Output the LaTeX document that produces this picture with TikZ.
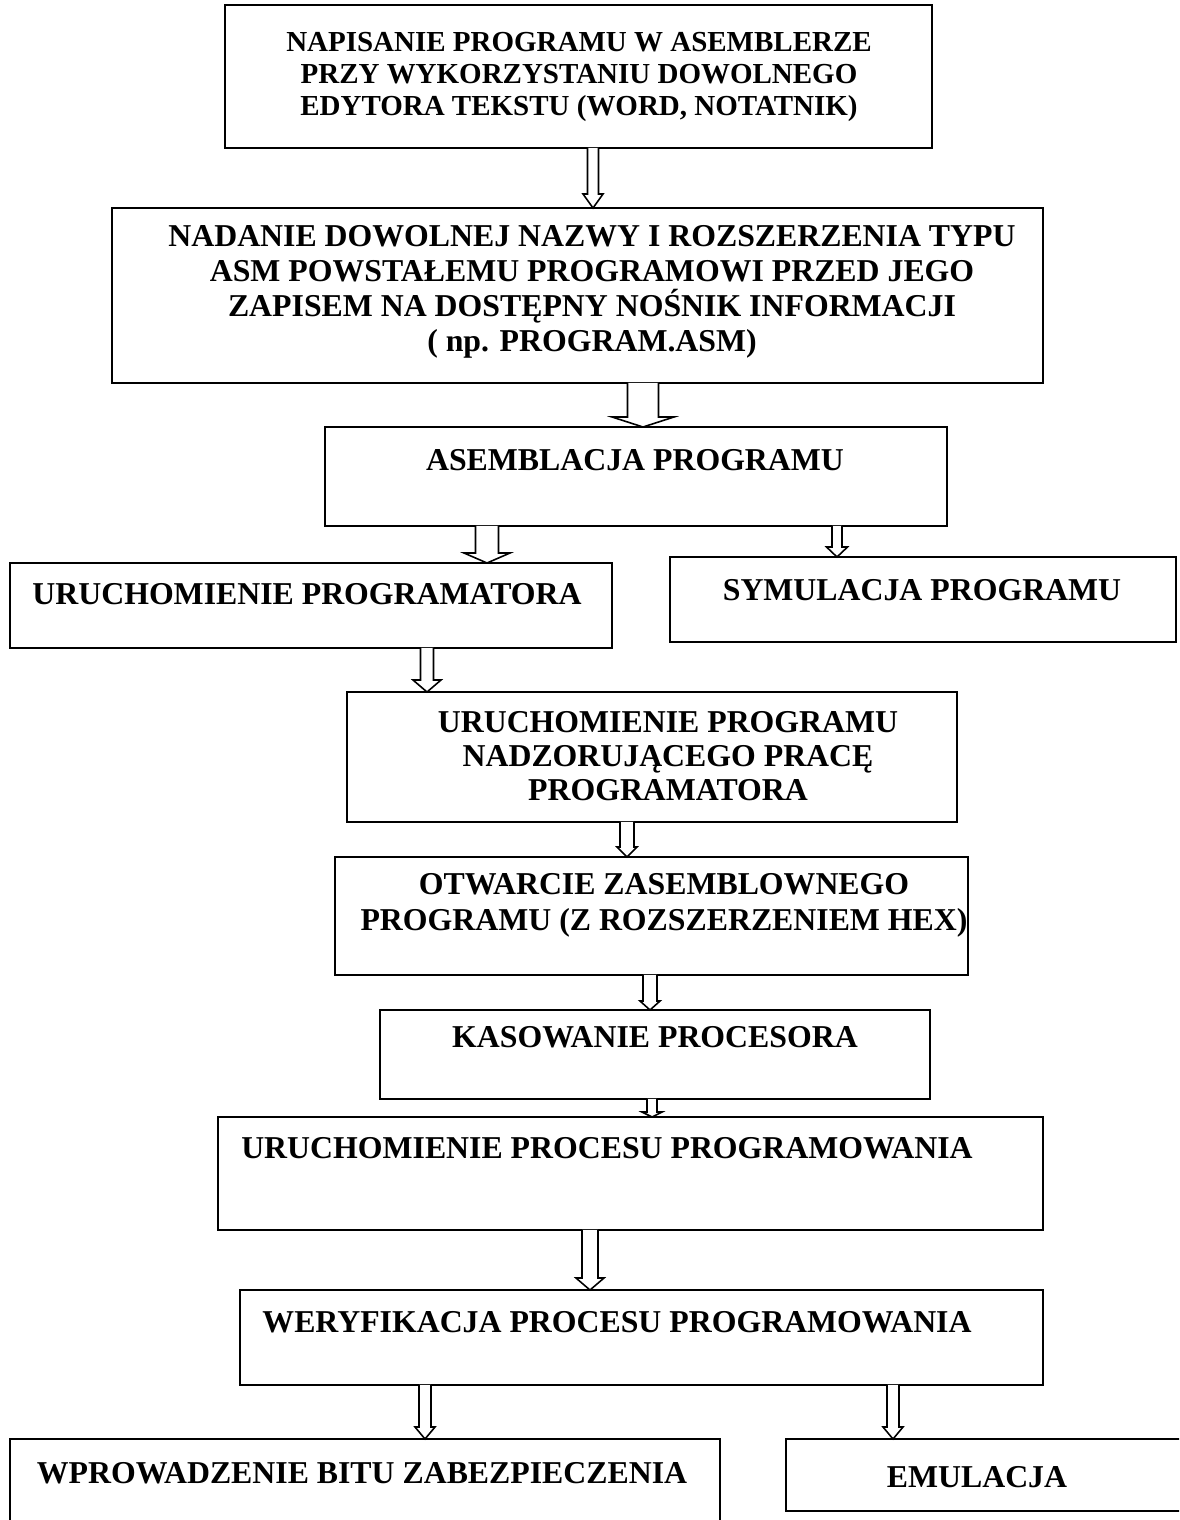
\documentclass[tikz,border=0pt]{standalone}
\usepackage{fontspec}
\setmainfont{Liberation Serif}
\usepackage{tikz}
\usetikzlibrary{calc}

% hollow block arrow: x, from node, to node, half shaft, half head, head length
\newcommand{\blockarrow}[6]{%
  \path (#1,0 |- #2.south) coordinate (ba-s) (#1,0 |- #3.north) coordinate (ba-e);
  \draw[arrowline] ($(ba-s)+(-#4,0)$) -- ($(ba-e)+(-#4,-#6)$) -- ($(ba-e)+(-#5,-#6)$)
    -- (ba-e) -- ($(ba-e)+(#5,-#6)$) -- ($(ba-e)+(#4,-#6)$) -- ($(ba-s)+(#4,0)$);}

\begin{document}
\begin{tikzpicture}[
    x=0.02cm, y=-0.02cm,
    box/.style={rectangle, draw, line width=1.1pt, inner sep=0pt, outer sep=0pt, anchor=north west},
    txt/.style={align=center, inner sep=0pt, font=\fontsize{18.1}{20}\selectfont\bfseries},
    arrowline/.style={draw, line width=0.9pt, line join=miter, fill=white}
]
\useasboundingbox (0,0) rectangle (1179,1520);
\clip (0,0) rectangle (1179,1520);
\fill[white] (0,0) rectangle (1179,1520);

% Boxes
\node[box, minimum width=14.14cm, minimum height=2.86cm] (write) at (225,5) {};
\node[box, minimum width=18.62cm, minimum height=3.5cm] (name) at (112,208) {};
\node[box, minimum width=12.44cm, minimum height=1.98cm] (assemble) at (325,427) {};
\node[box, minimum width=12.04cm, minimum height=1.7cm] (startprog) at (10,563) {};
\node[box, minimum width=10.12cm, minimum height=1.7cm] (simulate) at (670,557) {};
\node[box, minimum width=12.2cm, minimum height=2.6cm] (supervisor) at (347,692) {};
\node[box, minimum width=12.66cm, minimum height=2.36cm] (openhex) at (335,857) {};
\node[box, minimum width=11.0cm, minimum height=1.78cm] (erase) at (380,1010) {};
\node[box, minimum width=16.5cm, minimum height=2.26cm] (program) at (218,1117) {};
\node[box, minimum width=16.06cm, minimum height=1.9cm] (verify) at (240,1290) {};
\node[box, minimum width=14.2cm, minimum height=2.2cm] (securebit) at (10,1439) {};
\node[box, minimum width=8.4cm, minimum height=1.44cm] (emulate) at (786,1439) {};

% Texts
\node[txt, font=\fontsize{16.5}{18.3}\selectfont\bfseries] (writetxt) at (579,77) {NAPISANIE PROGRAMU W ASEMBLERZE\\PRZY WYKORZYSTANIU DOWOLNEGO\\EDYTORA TEKSTU (WORD, NOTATNIK)};
\node[txt, font=\fontsize{18.1}{19.9}\selectfont\bfseries] (nametxt) at (592,292) {NADANIE DOWOLNEJ NAZWY I ROZSZERZENIA TYPU\\ASM POWSTAŁEMU PROGRAMOWI PRZED JEGO\\ZAPISEM NA DOSTĘPNY NOŚNIK INFORMACJI\\( np. PROGRAM.ASM)};
\node[txt] (assembletxt) at (635,460) {ASEMBLACJA PROGRAMU};
\node[txt] (startprogtxt) at (307,594) {URUCHOMIENIE PROGRAMATORA};
\node[txt] (simulatetxt) at (922,590) {SYMULACJA PROGRAMU};
\node[txt, font=\fontsize{18.1}{19.4}\selectfont\bfseries] (supervisortxt) at (668,756) {URUCHOMIENIE PROGRAMU\\NADZORUJĄCEGO PRACĘ\\PROGRAMATORA};
\node[txt, font=\fontsize{18.1}{20.5}\selectfont\bfseries] (openhextxt) at (664,905) {OTWARCIE ZASEMBLOWNEGO\\PROGRAMU (Z ROZSZERZENIEM HEX)};
\node[txt] (erasetxt) at (655,1037) {KASOWANIE PROCESORA};
\node[txt] (programtxt) at (607,1148) {URUCHOMIENIE PROCESU PROGRAMOWANIA};
\node[txt] (verifytxt) at (617,1322) {WERYFIKACJA PROCESU PROGRAMOWANIA};
\node[txt] (securebittxt) at (362,1473) {WPROWADZENIE BITU ZABEZPIECZENIA};
\node[txt] (emulatetxt) at (977,1477) {EMULACJA};

% Arrows
\blockarrow{593}{write}{name}{5.5}{10}{14}
\blockarrow{643}{name}{assemble}{15.5}{31}{10}
\blockarrow{487}{assemble}{startprog}{11.5}{23}{10}
\blockarrow{837}{assemble}{simulate}{5}{10.5}{10}
\blockarrow{427}{startprog}{supervisor}{6.5}{14}{12}
\blockarrow{627}{supervisor}{openhex}{7}{10}{10}
\blockarrow{650}{openhex}{erase}{7}{10}{9}
\blockarrow{652}{erase}{program}{5}{10}{5}
\blockarrow{590}{program}{verify}{8}{14}{12}
\blockarrow{425}{verify}{securebit}{6}{10}{12}
\blockarrow{893}{verify}{emulate}{6}{10}{12}

\end{tikzpicture}
\end{document}
